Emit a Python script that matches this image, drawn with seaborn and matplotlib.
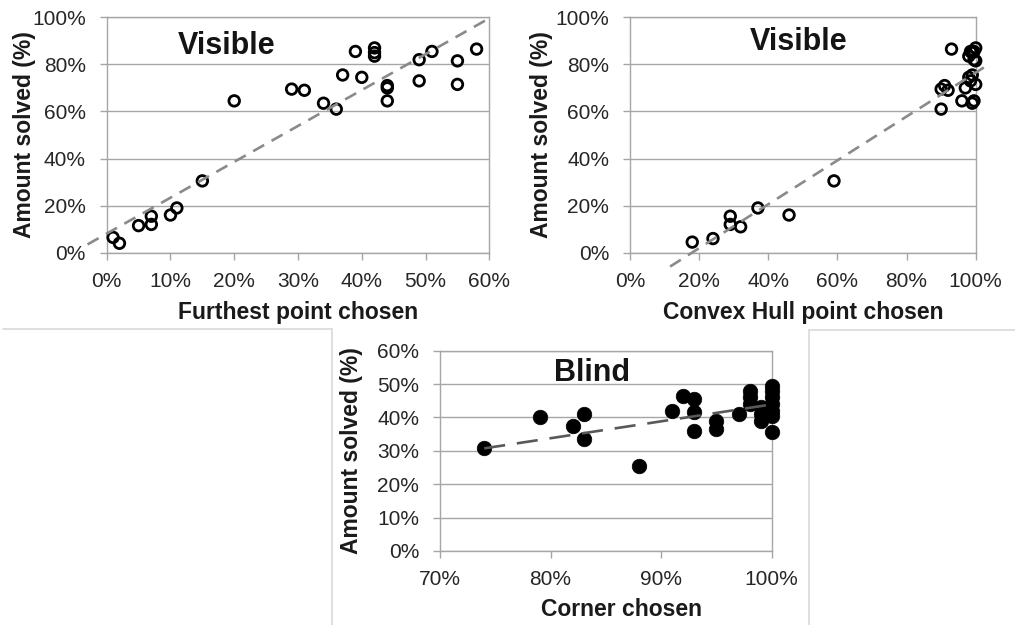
import numpy as np
import pandas as pd
import matplotlib
matplotlib.use("Agg")
import matplotlib.pyplot as plt
from matplotlib.lines import Line2D
from matplotlib.ticker import PercentFormatter, MultipleLocator
import seaborn as sns

# --- data (percent) ---------------------------------------------------------
# Visible condition: furthest point chosen vs. amount solved
furthest_x = [1, 2, 5, 7, 7, 10, 11, 15, 20, 29, 31, 34, 36, 37, 39, 40,
              42, 42, 42, 44, 44, 44, 49, 49, 51, 55, 55, 58]
furthest_y = [6.5, 4, 11.5, 15.5, 12, 16, 19, 30.5, 64.5, 69.5, 69, 63.5, 61, 75.5,
              85.5, 74.5, 87, 85, 83.5, 71, 70, 64.5, 82, 73, 85.5, 81.5, 71.5, 86.5]

# Visible condition: convex hull point chosen vs. amount solved
hull_x = [18, 24, 29, 29, 32, 37, 46, 59, 90, 90, 91, 92, 93, 96, 97, 98,
          98.5, 99, 99, 99.5, 100, 100, 99.5, 98, 99, 98.5, 99.5, 100]
hull_y = [4.5, 6, 15.5, 12, 11, 19, 16, 30.5, 61, 69.5, 71, 69, 86.5, 64.5, 70,
          74.5, 73, 75.5, 63.5, 64.5, 71.5, 81.5, 82, 83.5, 85, 85.5, 85.5, 87]

# Blind condition: corner chosen vs. amount solved
corner_x = [74, 79, 82, 83, 83, 88, 91, 92, 93, 93, 93, 95, 95, 97, 98, 98, 98,
            99, 99, 99, 100, 100, 100, 100, 100, 100, 100]
corner_y = [31, 40, 37.5, 41, 33.5, 25.5, 42, 46.5, 45.5, 41.5, 36, 39, 36.5, 41,
            48, 46, 44, 39, 41, 43, 49.5, 48, 46, 44, 42, 40.5, 35.5]

# linear trendlines: slope, intercept and x-extent (with forecast)
trend_slope = [1.525, 0.932, 0.506]
trend_intercept = [8.1, -16.7, -6.7]
trend_span = [[-3, 59.6], [11.6, 103.4], [74, 99.7]]

titles = ["Visible", "Visible", "Blind"]
xlabels = ["Furthest point chosen", "Convex Hull point chosen", "Corner chosen"]
ylabel = "Amount solved (%)"

# --- style ------------------------------------------------------------------
sns.set_theme(style="white")
plt.rcParams["font.family"] = ["Liberation Sans", "DejaVu Sans"]

GRID = "#a6a6a6"
TEXT = "#262626"

fig = plt.figure(figsize=(10.15, 6.25), dpi=100)

ax1 = fig.add_axes([0.1051, 0.5957, 0.3770, 0.3766])
ax2 = fig.add_axes([0.6207, 0.5957, 0.3406, 0.3766])
ax3 = fig.add_axes([0.4335, 0.1184, 0.3268, 0.3205])


def style_axes(ax, xlim, ylim, xstep, ystep):
    ax.set_xlim(*xlim)
    ax.set_ylim(*ylim)
    ax.xaxis.set_major_locator(MultipleLocator(xstep))
    ax.yaxis.set_major_locator(MultipleLocator(ystep))
    ax.xaxis.set_major_formatter(PercentFormatter(decimals=0))
    ax.yaxis.set_major_formatter(PercentFormatter(decimals=0))
    ax.grid(axis="y", color=GRID, lw=1.0)
    ax.grid(axis="x", visible=False)
    ax.set_axisbelow(True)
    for s in ax.spines.values():
        s.set_color(GRID)
        s.set_linewidth(1.0)
    ax.tick_params(axis="both", which="major", direction="out", length=5,
                   width=1.0, color=GRID, labelsize=15, labelcolor=TEXT,
                   bottom=True, left=True)
    ax.tick_params(axis="x", pad=9)
    ax.tick_params(axis="y", pad=10)


def draw_panel(ax, xs, ys, idx, filled, dashes, line_color):
    df = pd.DataFrame({"x": xs, "y": ys})
    if filled:
        sns.scatterplot(data=df, x="x", y="y", ax=ax, s=110, color="black",
                        edgecolor="black", linewidth=0.5, zorder=3, clip_on=False)
    else:
        sns.scatterplot(data=df, x="x", y="y", ax=ax, s=58, facecolor="none",
                        edgecolor="black", linewidth=2.0, zorder=3, clip_on=False)
    tx = np.array(trend_span[idx], dtype=float)
    ty = trend_intercept[idx] + trend_slope[idx] * tx
    ax.plot(tx, ty, color=line_color, lw=1.9, dashes=dashes,
            clip_on=False, zorder=4)


draw_panel(ax1, furthest_x, furthest_y, 0, False, (4.8, 3.2), "#8a8a8a")
draw_panel(ax2, hull_x, hull_y, 1, False, (4.8, 3.2), "#8a8a8a")
draw_panel(ax3, corner_x, corner_y, 2, True, (8.0, 4.5), "#595959")

style_axes(ax1, (0, 60), (0, 100), 10, 20)
style_axes(ax2, (0, 100), (0, 100), 20, 20)
style_axes(ax3, (70, 100), (0, 60), 10, 10)

label_font = dict(fontsize=16.5, fontweight="bold", color="#1a1a1a")
for ax, xl in zip((ax1, ax2, ax3), xlabels):
    ax.set_xlabel(xl, **label_font)
    ax.set_ylabel(ylabel, **label_font)

ax1.xaxis.set_label_coords(0.5, -0.205)
ax2.xaxis.set_label_coords(0.5, -0.205)
ax3.xaxis.set_label_coords(0.548, -0.235)
ax1.yaxis.set_label_coords(-0.185, 0.5)
ax2.yaxis.set_label_coords(-0.223, 0.5)
ax3.yaxis.set_label_coords(-0.232, 0.5)

title_font = dict(fontsize=22, fontweight="bold", color="#141414",
                  ha="center", va="center")
ax1.text(0.314, 0.88, titles[0], transform=ax1.transAxes, **title_font)
ax2.text(0.487, 0.895, titles[1], transform=ax2.transAxes, **title_font)
ax3.text(0.457, 0.89, titles[2], transform=ax3.transAxes, **title_font)

# light chart-area borders around the individual charts
frame = dict(color="#d9d9d9", lw=1.2, transform=fig.transFigure)
fig.add_artist(Line2D([0.003, 0.327], [0.4736, 0.4736], **frame))
fig.add_artist(Line2D([0.327, 0.327], [0.4736, 0.0], **frame))
fig.add_artist(Line2D([0.797, 0.797], [0.472, 0.0], **frame))
fig.add_artist(Line2D([0.797, 1.0], [0.472, 0.472], **frame))

fig.savefig("out.png", dpi=100, facecolor="white")
